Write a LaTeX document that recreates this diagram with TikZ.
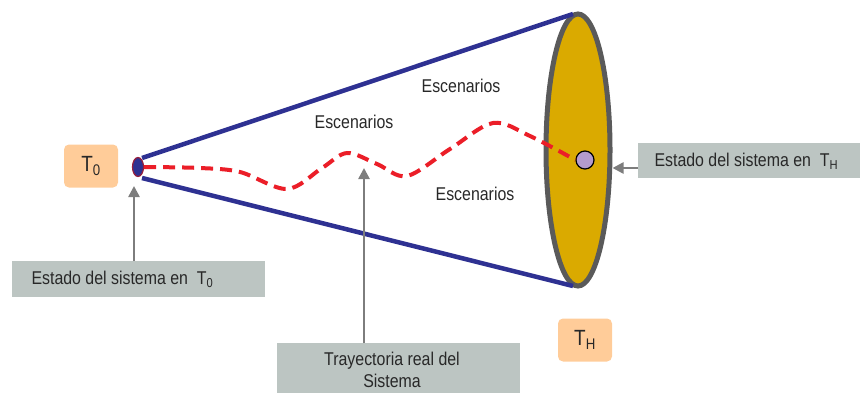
\documentclass[tikz,border=0pt]{standalone}
\usepackage{fontspec}
\setmainfont{Liberation Sans}[FakeStretch=0.86]
\usetikzlibrary{arrows.meta,shapes.geometric}
\definecolor{navy}{RGB}{46,49,146}
\definecolor{gold}{RGB}{218,170,0}
\definecolor{rimgray}{RGB}{90,90,90}
\definecolor{boxgray}{RGB}{188,197,194}
\definecolor{peach}{RGB}{255,204,153}
\definecolor{lav}{RGB}{180,155,205}
\definecolor{dashred}{RGB}{235,30,40}
\definecolor{txt}{RGB}{40,40,40}
\definecolor{arrgray}{RGB}{125,125,125}
\tikzset{
  conel/.style={draw=navy,line width=4.5pt},
  graybox/.style={fill=boxgray,draw=none,inner sep=0pt,text=txt},
  peachbox/.style={fill=peach,rounded corners=5pt,draw=none,minimum width=54pt,minimum height=43pt,text=txt,font=\fontsize{22}{24}\selectfont},
  ptr/.style={draw=arrgray,line width=2.5pt,-{Triangle[length=11pt,width=11pt]}},
  lbl/.style={text=txt,font=\fontsize{18.5}{21}\selectfont}
}
\begin{document}
\begin{tikzpicture}[x=1pt,y=-1pt]
\useasboundingbox (0,0) rectangle (867,393);
% big ellipse
\node[ellipse,draw=rimgray,line width=5pt,fill=gold,minimum width=64pt,minimum height=272pt,inner sep=0pt] (rim) at (578,150) {};
\coordinate (ct) at (573,14);
\coordinate (cb) at (573,286);
% cone lines
\coordinate (at) at (142,158);
\coordinate (ab) at (142,178);
\draw[conel] (at) -- (ct);
\draw[conel] (ab) -- (cb);
% apex
\node[ellipse,draw={rgb,255:red,150;green,30;blue,60},line width=1.2pt,fill=navy,minimum width=11pt,minimum height=19pt,inner sep=0pt] (apex) at (138,167) {};
% end point
\node[circle,draw=black,line width=1.2pt,fill=lav,minimum size=18pt,inner sep=0pt] (endp) at (585,160) {};
% trajectory
\draw[dashred,line width=4pt,dash pattern=on 12pt off 7pt] plot[smooth,tension=0.55] coordinates {(apex.east) (200,168) (240,172) (287,189) (322,168) (347,153) (377,164) (407,176) (450,149) (493,123) (530,136) (endp.west)};
% labels
\node[lbl] (e1) at (461,86) {Escenarios};
\node[lbl] (e2) at (354,122) {Escenarios};
\node[lbl] (e3) at (475,194) {Escenarios};
% peach boxes
\node[peachbox] (t0) at (91,166) {T\textsubscript{0}};
\node[peachbox] (th) at (585,340) {T\textsubscript{H}};
% gray boxes
\node[graybox,minimum width=222pt,minimum height=35pt,anchor=north west] (bh) at (638,143) {};
\node[lbl,anchor=west] at (651,161) {Estado del sistema en\ \ T\textsubscript{H}};
\node[graybox,minimum width=253pt,minimum height=36pt,anchor=north west] (b0) at (12,261) {};
\node[lbl,anchor=west] at (28,279) {Estado del sistema en\ \ T\textsubscript{0}};
\node[graybox,minimum width=243pt,minimum height=52pt,anchor=north west] (bt) at (277,343) {};
\node[lbl,align=center,font=\fontsize{18.5}{22}\selectfont] at (392,370) {Trayectoria real del\\Sistema};
% pointers
\draw[ptr] (bh.west |- 0,168) -- (rim.east |- 0,168);
\draw[ptr] (b0.north -| 134,0) -- (134,186);
\draw[ptr] (bt.north -| 364,0) -- (364,168);
\end{tikzpicture}
\end{document}
